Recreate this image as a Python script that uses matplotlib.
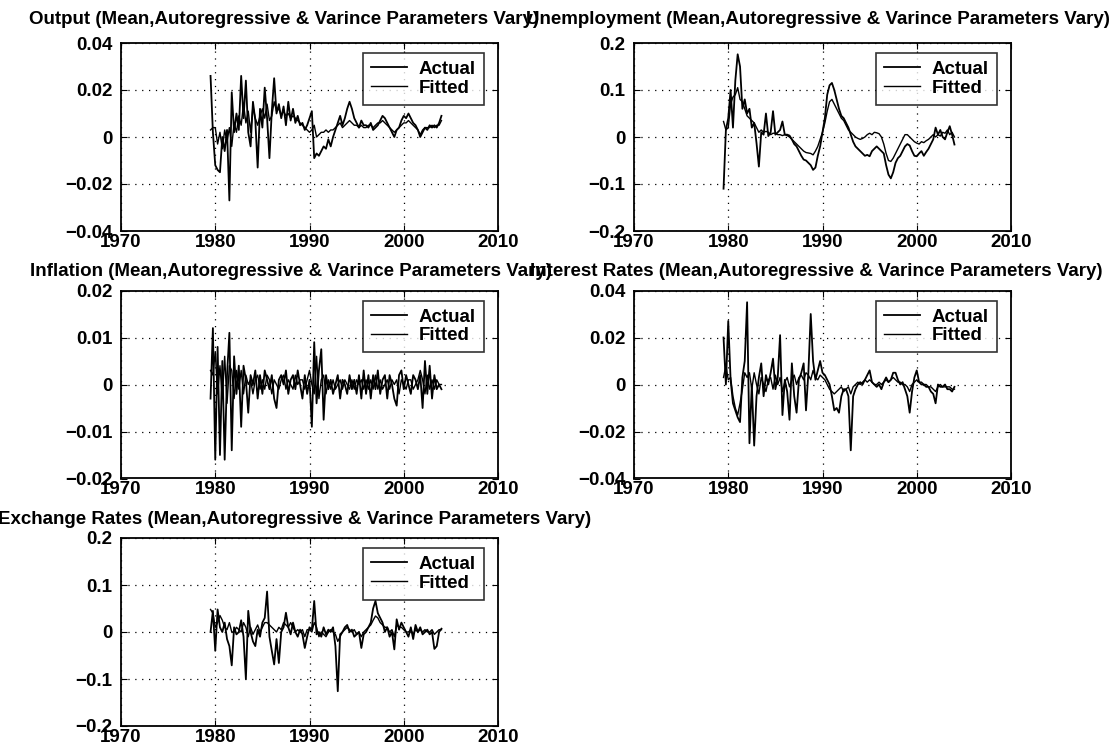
import numpy as np
import matplotlib
matplotlib.use("Agg")
import matplotlib.pyplot as plt

plt.rcParams['font.family'] = ['Liberation Sans', 'DejaVu Sans']
plt.rcParams['font.weight'] = 'bold'
plt.rcParams['font.size'] = 13.5

# Quarterly sample, 1979Q3 .. 2004Q1
quarters = 1979.5 + 0.25 * np.arange(99)

output_actual = [
    0.026, 0.002, -0.012, -0.014, -0.015, 0.000, -0.006, 0.003, -0.027, 0.019,
    0.002, 0.010, 0.003, 0.026, 0.008, 0.024, 0.002, -0.004, 0.015, 0.007,
    -0.013, 0.012, 0.004, 0.021, 0.008, -0.009, 0.011, 0.025, 0.010, 0.014,
    0.008, 0.013, 0.005, 0.015, 0.007, 0.012, 0.006, 0.009, 0.005, 0.006,
    0.003, 0.005, 0.008, 0.011, -0.009, -0.007, -0.008, -0.006, -0.004, -0.005,
    -0.001, -0.004, 0.000, 0.003, 0.006, 0.009, 0.005, 0.008, 0.012, 0.015,
    0.012, 0.008, 0.006, 0.004, 0.007, 0.005, 0.005, 0.004, 0.006, 0.003,
    0.004, 0.005, 0.007, 0.009, 0.008, 0.006, 0.004, 0.002, 0.000, 0.003,
    0.004, 0.007, 0.009, 0.008, 0.010, 0.008, 0.006, 0.005, 0.003, 0.000,
    0.002, 0.004, 0.003, 0.005, 0.004, 0.005, 0.004, 0.006, 0.009]
output_fitted = [
    0.003, 0.004, 0.004, -0.003, 0.002, -0.005, 0.003, -0.002, 0.004, -0.004,
    0.006, 0.002, 0.009, 0.005, 0.014, 0.006, 0.011, 0.002, 0.013, 0.008,
    0.005, 0.009, 0.012, 0.008, 0.014, 0.007, 0.009, 0.015, 0.011, 0.012,
    0.009, 0.011, 0.009, 0.010, 0.008, 0.009, 0.008, 0.007, 0.006, 0.005,
    0.004, 0.003, 0.002, 0.003, 0.005, 0.000, 0.001, 0.002, 0.002, 0.003,
    0.002, 0.003, 0.003, 0.004, 0.005, 0.006, 0.004, 0.005, 0.006, 0.007,
    0.006, 0.005, 0.005, 0.004, 0.005, 0.004, 0.004, 0.005, 0.005, 0.004,
    0.005, 0.006, 0.006, 0.007, 0.006, 0.005, 0.004, 0.003, 0.002, 0.003,
    0.004, 0.005, 0.006, 0.006, 0.007, 0.006, 0.005, 0.004, 0.003, 0.001,
    0.003, 0.004, 0.004, 0.004, 0.005, 0.004, 0.005, 0.005, 0.007]

unemp_actual = [
    -0.110, 0.015, 0.040, 0.100, 0.020, 0.120, 0.176, 0.150, 0.060, 0.080,
    0.050, 0.060, 0.020, 0.030, -0.013, -0.063, 0.010, 0.005, 0.050, 0.002,
    0.010, 0.055, 0.005, 0.010, 0.015, 0.033, 0.005, 0.005, 0.003, -0.005,
    -0.015, -0.020, -0.030, -0.040, -0.048, -0.050, -0.055, -0.060, -0.070, -0.065,
    -0.040, -0.020, 0.010, 0.040, 0.090, 0.110, 0.115, 0.100, 0.080, 0.060,
    0.045, 0.040, 0.030, 0.020, 0.005, -0.010, -0.020, -0.025, -0.030, -0.035,
    -0.040, -0.038, -0.041, -0.030, -0.025, -0.020, -0.025, -0.030, -0.035, -0.060,
    -0.080, -0.088, -0.075, -0.055, -0.045, -0.040, -0.030, -0.020, -0.015, -0.018,
    -0.030, -0.040, -0.041, -0.035, -0.030, -0.040, -0.032, -0.025, -0.015, -0.005,
    0.020, 0.005, 0.015, 0.000, -0.005, 0.010, 0.023, 0.005, -0.016]
unemp_fitted = [
    0.033, 0.015, 0.020, 0.070, 0.085, 0.090, 0.105, 0.080, 0.075, 0.060,
    0.045, 0.040, 0.035, 0.030, 0.020, 0.010, 0.015, 0.010, 0.012, 0.010,
    0.005, 0.008, 0.008, 0.005, 0.005, 0.003, 0.005, 0.003, 0.000, -0.005,
    -0.010, -0.015, -0.020, -0.025, -0.030, -0.033, -0.034, -0.035, -0.038, -0.030,
    -0.020, -0.005, 0.010, 0.030, 0.055, 0.075, 0.080, 0.070, 0.060, 0.050,
    0.040, 0.035, 0.025, 0.015, 0.010, 0.005, 0.000, -0.003, -0.005, -0.003,
    0.000, 0.005, 0.008, 0.005, 0.010, 0.009, 0.007, 0.000, -0.015, -0.035,
    -0.050, -0.052, -0.045, -0.035, -0.025, -0.015, -0.005, 0.005, 0.005, 0.000,
    -0.005, -0.010, -0.013, -0.015, -0.010, -0.012, -0.008, -0.005, 0.000, 0.005,
    0.000, 0.005, 0.002, 0.010, 0.008, 0.015, 0.005, 0.010, 0.000]

infl_actual = [
    -0.0030, 0.0120, -0.0160, 0.0080, -0.0150, 0.0050, -0.0160, 0.0020, 0.0110, -0.0140,
    0.0060, -0.0020, 0.0040, -0.0090, 0.0040, 0.0010, -0.0060, 0.0020, 0.0000, 0.0030,
    -0.0030, 0.0020, -0.0020, 0.0030, 0.0010, -0.0010, 0.0020, -0.0030, -0.0050, 0.0010,
    0.0020, 0.0000, 0.0030, -0.0020, 0.0010, 0.0020, -0.0010, 0.0030, 0.0000, -0.0030,
    0.0020, -0.0020, 0.0010, -0.0090, 0.0090, -0.0040, 0.0030, 0.0075, -0.0075, 0.0020,
    -0.0010, 0.0010, -0.0020, 0.0000, 0.0020, -0.0030, 0.0010, 0.0000, -0.0020, 0.0020,
    -0.0010, 0.0010, -0.0020, 0.0020, -0.0030, 0.0030, -0.0020, 0.0020, -0.0030, 0.0020,
    -0.0010, 0.0030, -0.0020, 0.0010, 0.0020, -0.0030, 0.0020, 0.0000, -0.0030, -0.0045,
    0.0020, 0.0030, -0.0010, 0.0020, 0.0000, -0.0020, 0.0020, 0.0010, -0.0010, 0.0020,
    -0.0050, 0.0050, -0.0020, 0.0040, -0.0030, 0.0020, -0.0010, 0.0000, -0.0010]
infl_fitted = [
    0.0030, 0.0020, 0.0070, -0.0020, 0.0040, -0.0030, 0.0060, -0.0040, 0.0040, 0.0030,
    -0.0030, 0.0030, -0.0010, 0.0030, -0.0020, 0.0020, 0.0000, 0.0010, -0.0020, 0.0010,
    0.0020, -0.0010, 0.0010, -0.0010, 0.0020, 0.0010, -0.0020, 0.0010, 0.0000, -0.0010,
    0.0010, 0.0020, -0.0010, 0.0010, 0.0000, -0.0010, 0.0020, 0.0000, 0.0010, 0.0010,
    -0.0010, 0.0010, 0.0030, 0.0000, -0.0020, 0.0060, -0.0030, 0.0010, 0.0020, -0.0020,
    0.0010, -0.0010, 0.0010, -0.0010, 0.0000, 0.0010, -0.0010, 0.0010, 0.0000, -0.0010,
    0.0010, -0.0010, 0.0010, 0.0000, 0.0010, -0.0010, 0.0010, -0.0010, 0.0010, -0.0010,
    0.0020, -0.0010, 0.0010, -0.0010, 0.0000, 0.0010, -0.0010, 0.0010, 0.0000, 0.0010,
    -0.0020, 0.0010, 0.0000, -0.0010, 0.0010, 0.0010, -0.0010, 0.0000, 0.0010, 0.0030,
    0.0010, -0.0020, 0.0020, -0.0010, 0.0010, -0.0010, 0.0010, 0.0000, 0.0000]

rate_actual = [
    0.020, 0.000, 0.027, 0.002, -0.008, -0.011, -0.014, -0.016, 0.003, 0.010,
    0.035, -0.025, 0.000, -0.026, -0.005, 0.003, 0.009, -0.005, 0.004, 0.000,
    0.005, 0.011, -0.002, 0.003, 0.021, -0.013, 0.002, -0.003, -0.015, 0.009,
    -0.005, -0.012, 0.002, 0.005, 0.009, -0.011, 0.005, 0.030, 0.010, 0.002,
    0.006, 0.010, 0.005, 0.004, 0.002, 0.000, -0.005, -0.011, -0.010, -0.012,
    -0.005, -0.002, -0.002, -0.005, -0.028, -0.005, -0.002, 0.000, 0.001, 0.000,
    0.002, 0.004, 0.006, 0.001, 0.000, -0.001, 0.000, -0.002, 0.001, 0.003,
    0.001, 0.002, 0.005, 0.005, 0.002, 0.000, 0.001, -0.002, -0.005, -0.012,
    -0.003, 0.003, 0.006, 0.001, 0.000, 0.000, -0.001, -0.001, -0.003, -0.004,
    -0.008, 0.000, -0.001, -0.001, 0.000, -0.002, -0.002, -0.003, -0.001]
rate_fitted = [
    0.003, 0.008, 0.002, 0.003, -0.005, -0.010, -0.013, -0.008, -0.002, 0.005,
    0.003, 0.005, -0.002, 0.005, 0.000, -0.004, 0.003, 0.000, -0.003, 0.002,
    0.003, -0.002, 0.004, 0.000, 0.003, -0.003, 0.001, 0.003, -0.001, 0.002,
    0.004, 0.000, 0.003, 0.004, 0.002, 0.005, 0.004, 0.002, 0.006, 0.003,
    0.002, 0.004, 0.003, 0.002, 0.000, -0.002, -0.003, -0.004, -0.003, -0.002,
    -0.001, -0.003, -0.002, -0.001, -0.004, -0.001, 0.000, 0.001, 0.000, 0.001,
    0.002, 0.001, 0.002, 0.001, 0.000, 0.000, 0.001, 0.000, 0.001, 0.002,
    0.001, 0.002, 0.003, 0.002, 0.001, 0.001, 0.000, 0.000, -0.001, -0.003,
    0.000, 0.001, 0.002, 0.001, 0.001, 0.000, 0.000, -0.001, -0.001, -0.002,
    -0.003, -0.001, 0.000, -0.001, -0.001, -0.001, -0.001, -0.002, -0.002]

fx_actual = [
    0.000, 0.045, -0.040, 0.048, 0.010, 0.000, 0.020, -0.015, -0.030, -0.071,
    0.010, -0.005, 0.000, 0.025, -0.010, -0.100, 0.045, 0.000, -0.020, -0.030,
    0.005, -0.010, 0.020, 0.030, 0.086, -0.010, -0.040, -0.069, -0.015, -0.066,
    0.000, 0.010, 0.041, 0.010, -0.005, 0.020, 0.000, -0.010, 0.005, -0.005,
    -0.034, -0.010, 0.010, 0.005, 0.066, -0.005, 0.000, -0.010, 0.010, -0.005,
    0.005, 0.000, 0.010, -0.030, -0.126, -0.005, 0.000, 0.010, 0.015, 0.000,
    0.005, -0.010, -0.005, 0.000, -0.034, -0.005, 0.000, 0.010, 0.020, 0.050,
    0.066, 0.040, 0.030, 0.020, 0.000, 0.010, -0.010, 0.000, -0.037, 0.027,
    0.005, 0.020, 0.010, 0.000, -0.010, 0.010, -0.015, 0.015, 0.000, 0.010,
    -0.005, 0.000, 0.005, -0.005, 0.000, -0.036, -0.030, 0.000, 0.007]
fx_fitted = [
    0.048, 0.040, 0.010, 0.020, 0.035, 0.025, 0.010, 0.005, 0.020, 0.000,
    0.000, 0.010, 0.005, 0.000, 0.020, 0.010, -0.010, 0.010, -0.005, 0.005,
    0.015, 0.000, 0.010, 0.020, 0.020, 0.015, 0.010, 0.005, 0.000, 0.010,
    0.005, 0.020, 0.015, 0.010, 0.020, 0.010, 0.000, 0.005, 0.000, 0.005,
    -0.010, 0.005, 0.005, 0.000, 0.020, 0.010, -0.010, 0.000, -0.005, -0.010,
    0.000, 0.005, 0.000, -0.005, -0.020, -0.010, 0.000, 0.005, 0.010, 0.005,
    0.000, 0.005, -0.005, 0.000, -0.010, 0.000, 0.005, 0.010, 0.015, 0.025,
    0.034, 0.030, 0.020, 0.015, 0.010, 0.010, 0.000, 0.005, -0.010, 0.015,
    0.010, 0.010, 0.005, 0.000, 0.000, 0.005, -0.005, 0.005, 0.000, 0.005,
    0.000, 0.005, 0.000, 0.000, 0.005, -0.005, 0.000, 0.005, 0.005]

suffix = " (Mean,Autoregressive & Varince Parameters Vary)"
panels = [
    ("Output", output_actual, output_fitted, [-0.04, -0.02, 0, 0.02, 0.04]),
    ("Unemployment", unemp_actual, unemp_fitted, [-0.2, -0.1, 0, 0.1, 0.2]),
    ("Inflation", infl_actual, infl_fitted, [-0.02, -0.01, 0, 0.01, 0.02]),
    ("Interest Rates", rate_actual, rate_fitted, [-0.04, -0.02, 0, 0.02, 0.04]),
    ("Exchange Rates", fx_actual, fx_fitted, [-0.2, -0.1, 0, 0.1, 0.2]),
]
year_ticks = [1970, 1980, 1990, 2000, 2010]

W, H = 1115, 755
fig = plt.figure(figsize=(W / 100, H / 100), dpi=100)

# axes boxes in pixels: (left, top, width, height)
col_left = [121, 634]
row_top = [43, 290.5, 538]
ax_w, ax_h = 377, 188
# title centres and baselines in pixels
title_pos = [(284, 24), (818, 24), (291, 276.5), (816, 276.5), (295, 524)]

for k, (name, act, fit, yt) in enumerate(panels):
    r, c = divmod(k, 2)
    l, t = col_left[c], row_top[r]
    ax = fig.add_axes([l / W, 1 - (t + ax_h) / H, ax_w / W, ax_h / H])
    ax.plot(quarters, act, color='black', lw=1.3, label='Actual')
    ax.plot(quarters, fit, color='black', lw=1.0, label='Fitted')
    ax.set_xlim(1970, 2010)
    ax.set_ylim(yt[0], yt[-1])
    ax.set_xticks(year_ticks)
    ax.set_xticklabels([str(y) for y in year_ticks])
    ax.set_yticks(yt)
    ax.set_yticklabels([('%g' % v).replace('-', '\u2212') for v in yt])
    ax.grid(True, color='black', linestyle=(0, (1, 4.5)), linewidth=0.9)
    ax.tick_params(direction='in', length=4, width=0.8, top=True, right=True,
                   labelsize=13.5, pad=2)
    ax.tick_params(axis='y', pad=6)
    for s in ax.spines.values():
        s.set_linewidth(1.3)
    leg = ax.legend(loc='upper right', bbox_to_anchor=(1 - 14 / ax_w, 1 - 10 / ax_h),
                    borderaxespad=0, fontsize=13.5, frameon=True, fancybox=False,
                    edgecolor='black', handlelength=1.9, handletextpad=0.65,
                    labelspacing=0.1, borderpad=0.42)
    leg.get_frame().set_linewidth(1.2)
    tx, ty = title_pos[k]
    fig.text(tx / W, 1 - ty / H, name + suffix, ha='center', va='baseline',
             fontsize=13.5, fontweight='bold')

fig.savefig("out.png", dpi=100)
